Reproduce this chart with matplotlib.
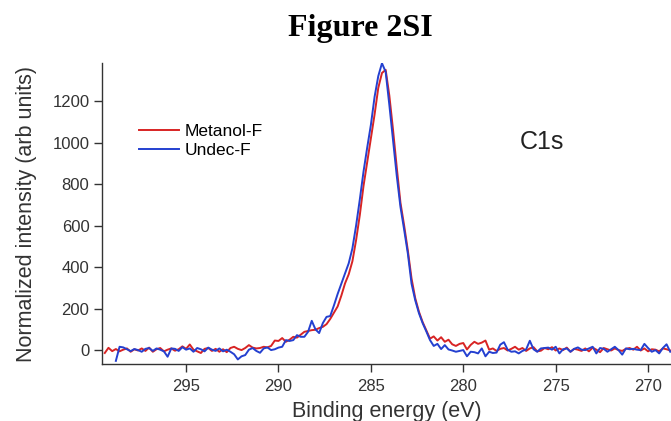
import numpy as np
import matplotlib
matplotlib.use("Agg")
import matplotlib.pyplot as plt

# binding energy grid (eV), 0.2 eV steps
energy = np.arange(299.4, 268.7, -0.2)[:154]

metanol_f = [
    -14, 11, -5, 5, -6, 2, 8, -8, 4, -2,
    8, -4, 12, -8, 4, 10, -6, 2, 8, -3,
    4, 18, 6, 27, 2, -6, -14, 6, 10, -4,
    6, -8, 4, -10, 10, 16, 6, 0, 10, 24,
    12, 8, 10, 16, 13, 20, 46, 44, 58, 40,
    50, 64, 60, 74, 88, 92, 96, 98, 106, 112,
    125, 150, 180, 210, 262, 321, 365, 428, 530, 650,
    790, 905, 1020, 1135, 1263, 1335, 1350, 1225, 1060, 880,
    710, 600, 480, 345, 250, 185, 135, 95, 55, 66,
    46, 62, 40, 50, 28, 20, 30, 34, 3, 25,
    40, 30, 36, 46, 2, 8, -4, 6, 10, -2,
    6, 16, 2, 10, -4, 8, 14, -6, -3, 10,
    4, 14, -2, 8, 0, 12, -8, 6, 2, -4,
    8, -6, 12, 2, -10, 10, 4, -2, 8, 0,
    -4, 6, 10, 2, 16, -2, 8, -6, 4, 2,
    -6, 8, 4, -2,
]

undec_f = [
    np.nan, np.nan, np.nan, -52, 16, 13, 4, -5, 5, 0,
    -8, 6, 10, -4, 8, 2, -6, -32, 8, 6,
    -4, 14, 2, 8, -8, 10, 4, -6, 12, 2,
    -4, 8, -6, 2, -8, -20, -45, -30, -24, 2,
    10, -4, -13, 8, 13, 0, 4, 12, 16, 48,
    44, 48, 72, 64, 64, 88, 141, 100, 82, 130,
    160, 164, 215, 270, 320, 369, 418, 490, 600, 725,
    859, 975, 1085, 1220, 1320, 1382, 1340, 1180, 1010, 840,
    690, 580, 465, 320, 240, 178, 130, 90, 48, 20,
    30, 5, 24, 3, -2, -8, -4, 0, -30, -8,
    -10, -16, 8, -30, -8, -14, -12, 26, 38, 2,
    -8, -6, -16, -4, 3, 45, 4, -8, 8, 10,
    12, 2, 16, -16, 4, 8, -8, 6, 13, 2,
    0, 8, 16, -16, 10, 6, -8, 4, 16, 0,
    -22, 8, 4, 6, 2, 0, 30, 10, -8, 0,
    -16, 10, 28, -8,
]

y_ticks = [0, 200, 400, 600, 800, 1000, 1200]
x_ticks = [295, 290, 285, 280, 275, 270]

plt.rcParams['font.family'] = ['Liberation Sans', 'DejaVu Sans']

fig = plt.figure(figsize=(6.71, 4.21), dpi=100)
ax = fig.add_axes([102 / 671, 57 / 421, 569 / 671, 301 / 421])

ax.plot(energy, metanol_f, color="#d82424", lw=1.4, label="Metanol-F")
ax.plot(energy, undec_f, color="#2440d0", lw=1.4, label="Undec-F")

ax.set_xlim(299.55, 268.76)
ax.set_ylim(-67, 1383)
ax.set_xticks(x_ticks)
ax.set_yticks(y_ticks)

for side in ["top", "right"]:
    ax.spines[side].set_visible(False)
for side in ["left", "bottom"]:
    ax.spines[side].set_color("#333333")
    ax.spines[side].set_linewidth(1.0)
ax.tick_params(direction="out", length=5.5, width=1.0, color="#333333",
               labelsize=12, labelcolor="#333333")
ax.tick_params(axis="x", pad=5)

ax.set_xlabel("Binding energy (eV)", fontsize=15.5, color="#333333", labelpad=5)
ax.set_ylabel("Normalized intensity (arb units)", fontsize=15.5, color="#333333", labelpad=11)

ax.legend(loc="upper left", bbox_to_anchor=(0.037, 0.85), frameon=False,
          fontsize=12.5, handlelength=2.3, handletextpad=0.35, labelspacing=0.25)

ax.text(0.735, 0.715, "C1s", transform=ax.transAxes, fontsize=18, color="#222222")

fig.text(0.537, 0.933, "Figure 2SI", ha="center", va="center", fontsize=23,
         fontweight="bold", family="Liberation Serif")

fig.savefig("out.png", dpi=100)
